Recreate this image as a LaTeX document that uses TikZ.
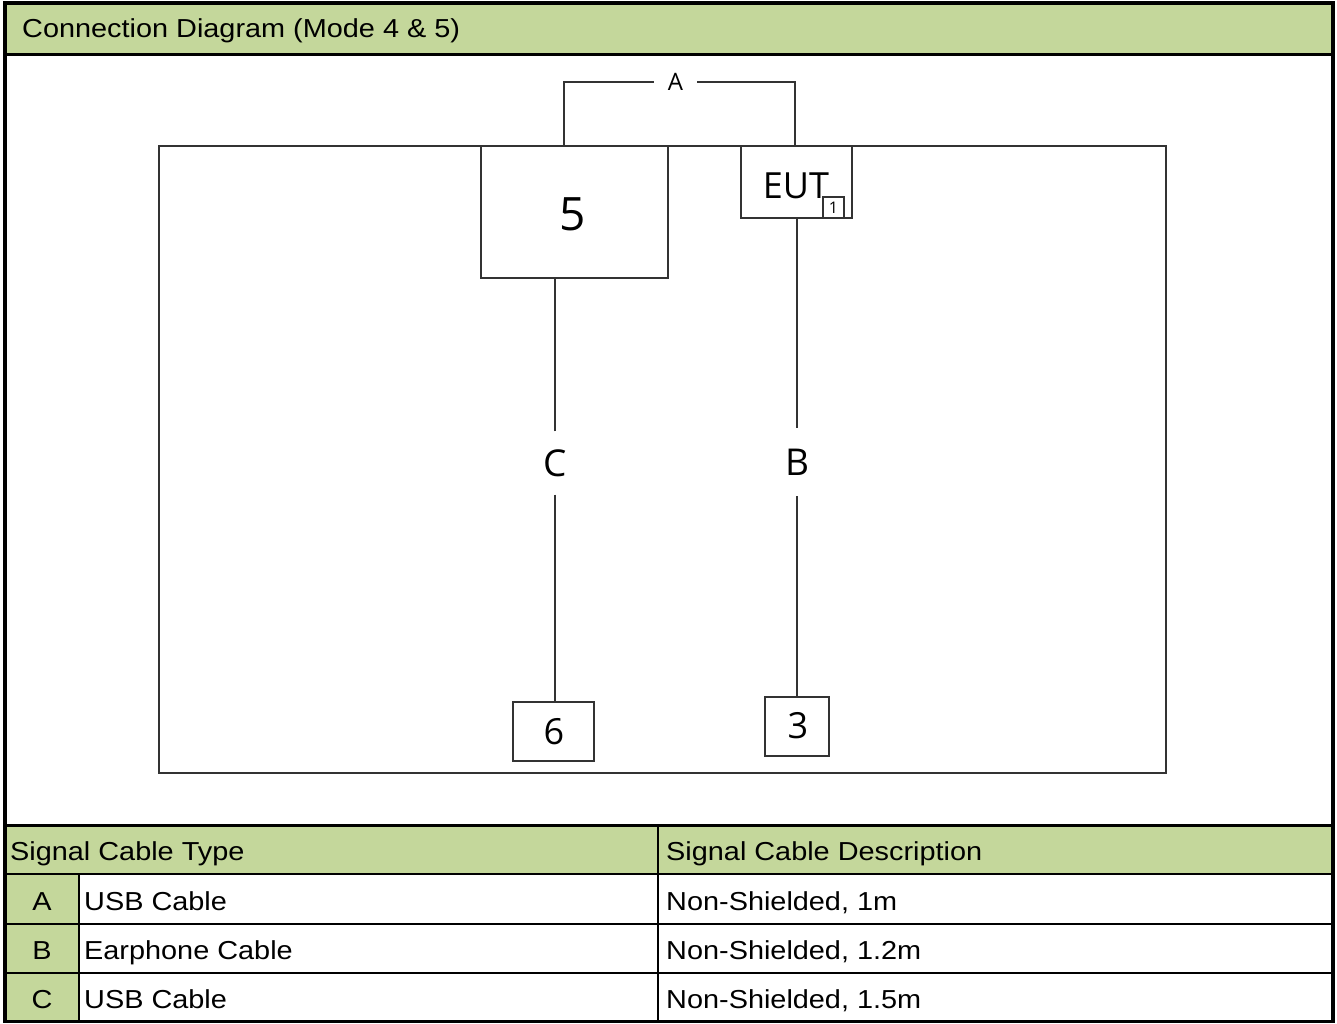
\documentclass[tikz,border=0pt]{standalone}
\usepackage{fontspec}
\setmainfont{Liberation Sans}
\newfontfamily\arialx{Liberation Sans}[FakeStretch=1.11]
\newfontfamily\diagfont{Open Sans}
\usetikzlibrary{calc}
\definecolor{hdrgreen}{HTML}{C4D79B}
\definecolor{lngray}{HTML}{333333}
\begin{document}
\begin{tikzpicture}[x=1pt,y=-1pt,
  wire/.style={draw=lngray,line width=1.8pt},
  box/.style={draw=lngray,line width=1.8pt,fill=white,inner sep=0pt},
  lbl/.style={font=\diagfont\fontsize{36}{40}\selectfont,inner sep=0pt},
  gap/.style={font=\diagfont\fontsize{37}{40}\selectfont,inner sep=0pt,minimum width=10pt},
  tbl/.style={font=\arialx\fontsize{26}{30}\selectfont,inner sep=0pt,anchor=base west},
  tblc/.style={font=\arialx\fontsize{26}{30}\selectfont,inner sep=0pt,anchor=base},
  gridline/.style={draw=black,line width=2.5pt}]
\useasboundingbox (0,0) rectangle (1337,1023);
% header band
\fill[hdrgreen] (5,3) rectangle (1333,54);
\node[tbl] (title) at (22,37.5) {Connection Diagram (Mode 4 \& 5)};
% table fills
\fill[hdrgreen] (5,825) rectangle (1333,874);
\fill[hdrgreen] (5,874) rectangle (79,1021);
% diagram
\node[box,fill=none,minimum width=1007pt,minimum height=627pt] (room) at (662.5,459.5) {};
\node[box,minimum width=187pt,minimum height=132pt] (b5) at (574.5,212) {};
\node[inner sep=0pt,font=\diagfont\fontsize{46}{50}\selectfont,anchor=base] (t5) at (573,230) {5};
\node[box,minimum width=111pt,minimum height=72pt] (eut) at (796.5,182) {};
\node[lbl,anchor=base] (eutt) at (796,198) {EUT};
\node[box,minimum width=21pt,minimum height=21pt,font=\diagfont\fontsize{16}{18}\selectfont] (one) at (833.5,207.5) {1};
\node[box,minimum width=81pt,minimum height=59pt] (b6) at (553.5,731.5) {};
\node[lbl,anchor=base] (t6) at (554,744) {6};
\node[box,minimum width=64pt,minimum height=59pt] (b3) at (797,726.5) {};
\node[lbl,anchor=base] (t3) at (798,738) {3};
% labels on cables
\node[inner sep=0pt,minimum width=43pt,minimum height=20pt,font=\diagfont\fontsize{24}{26}\selectfont] (la) at (675.5,82) {A};
\node[gap,minimum height=63pt] (lc) at (555,463) {C};
\node[gap,minimum height=68pt] (lb) at (797,462) {B};
% cables
\draw[wire] (la.west) -| ($(b5.north west)+(84,0)$);
\draw[wire] (la.east) -| (eut.north -| 795,0);
\draw[wire] (lc.north) -- (lc.north |- b5.south);
\draw[wire] (lc.south) -- (lc.south |- b6.north);
\draw[wire] (lb.north) -- (lb.north |- eut.south);
\draw[wire] (lb.south) -- (lb.south |- b3.north);
% table text
\node[tbl] (h1) at (10,860) {Signal Cable Type};
\node[tbl] (h2) at (666,860) {Signal Cable Description};
\node[tblc] (ra) at (42,910) {A};
\node[tbl] (ra1) at (84,910) {USB Cable};
\node[tbl] (ra2) at (666,910) {Non-Shielded, 1m};
\node[tblc] (rb) at (42,959) {B};
\node[tbl] (rb1) at (84,959) {Earphone Cable};
\node[tbl] (rb2) at (666,959) {Non-Shielded, 1.2m};
\node[tblc] (rc) at (42,1008) {C};
\node[tbl] (rc1) at (84,1008) {USB Cable};
\node[tbl] (rc2) at (666,1008) {Non-Shielded, 1.5m};
% table grid
\draw[gridline,line width=3pt] (5,54) -- (1333,54);
\draw[gridline,line width=3pt] (5,825) -- (1333,825);
\draw[gridline] (5,874) -- (1333,874);
\draw[gridline] (5,924) -- (1333,924);
\draw[gridline] (5,973) -- (1333,973);
\draw[gridline] (79,874) -- (79,1021);
\draw[gridline] (658,825) -- (658,1021);
% outer frame
\draw[draw=black,line width=4pt] (5,3) -- (1333,3);
\draw[draw=black,line width=4pt] (5,1) -- (5,1023);
\draw[draw=black,line width=3.5pt] (1333,1) -- (1333,1023);
\draw[draw=black,line width=2.5pt] (5,1021.5) -- (1333,1021.5);
\end{tikzpicture}
\end{document}
